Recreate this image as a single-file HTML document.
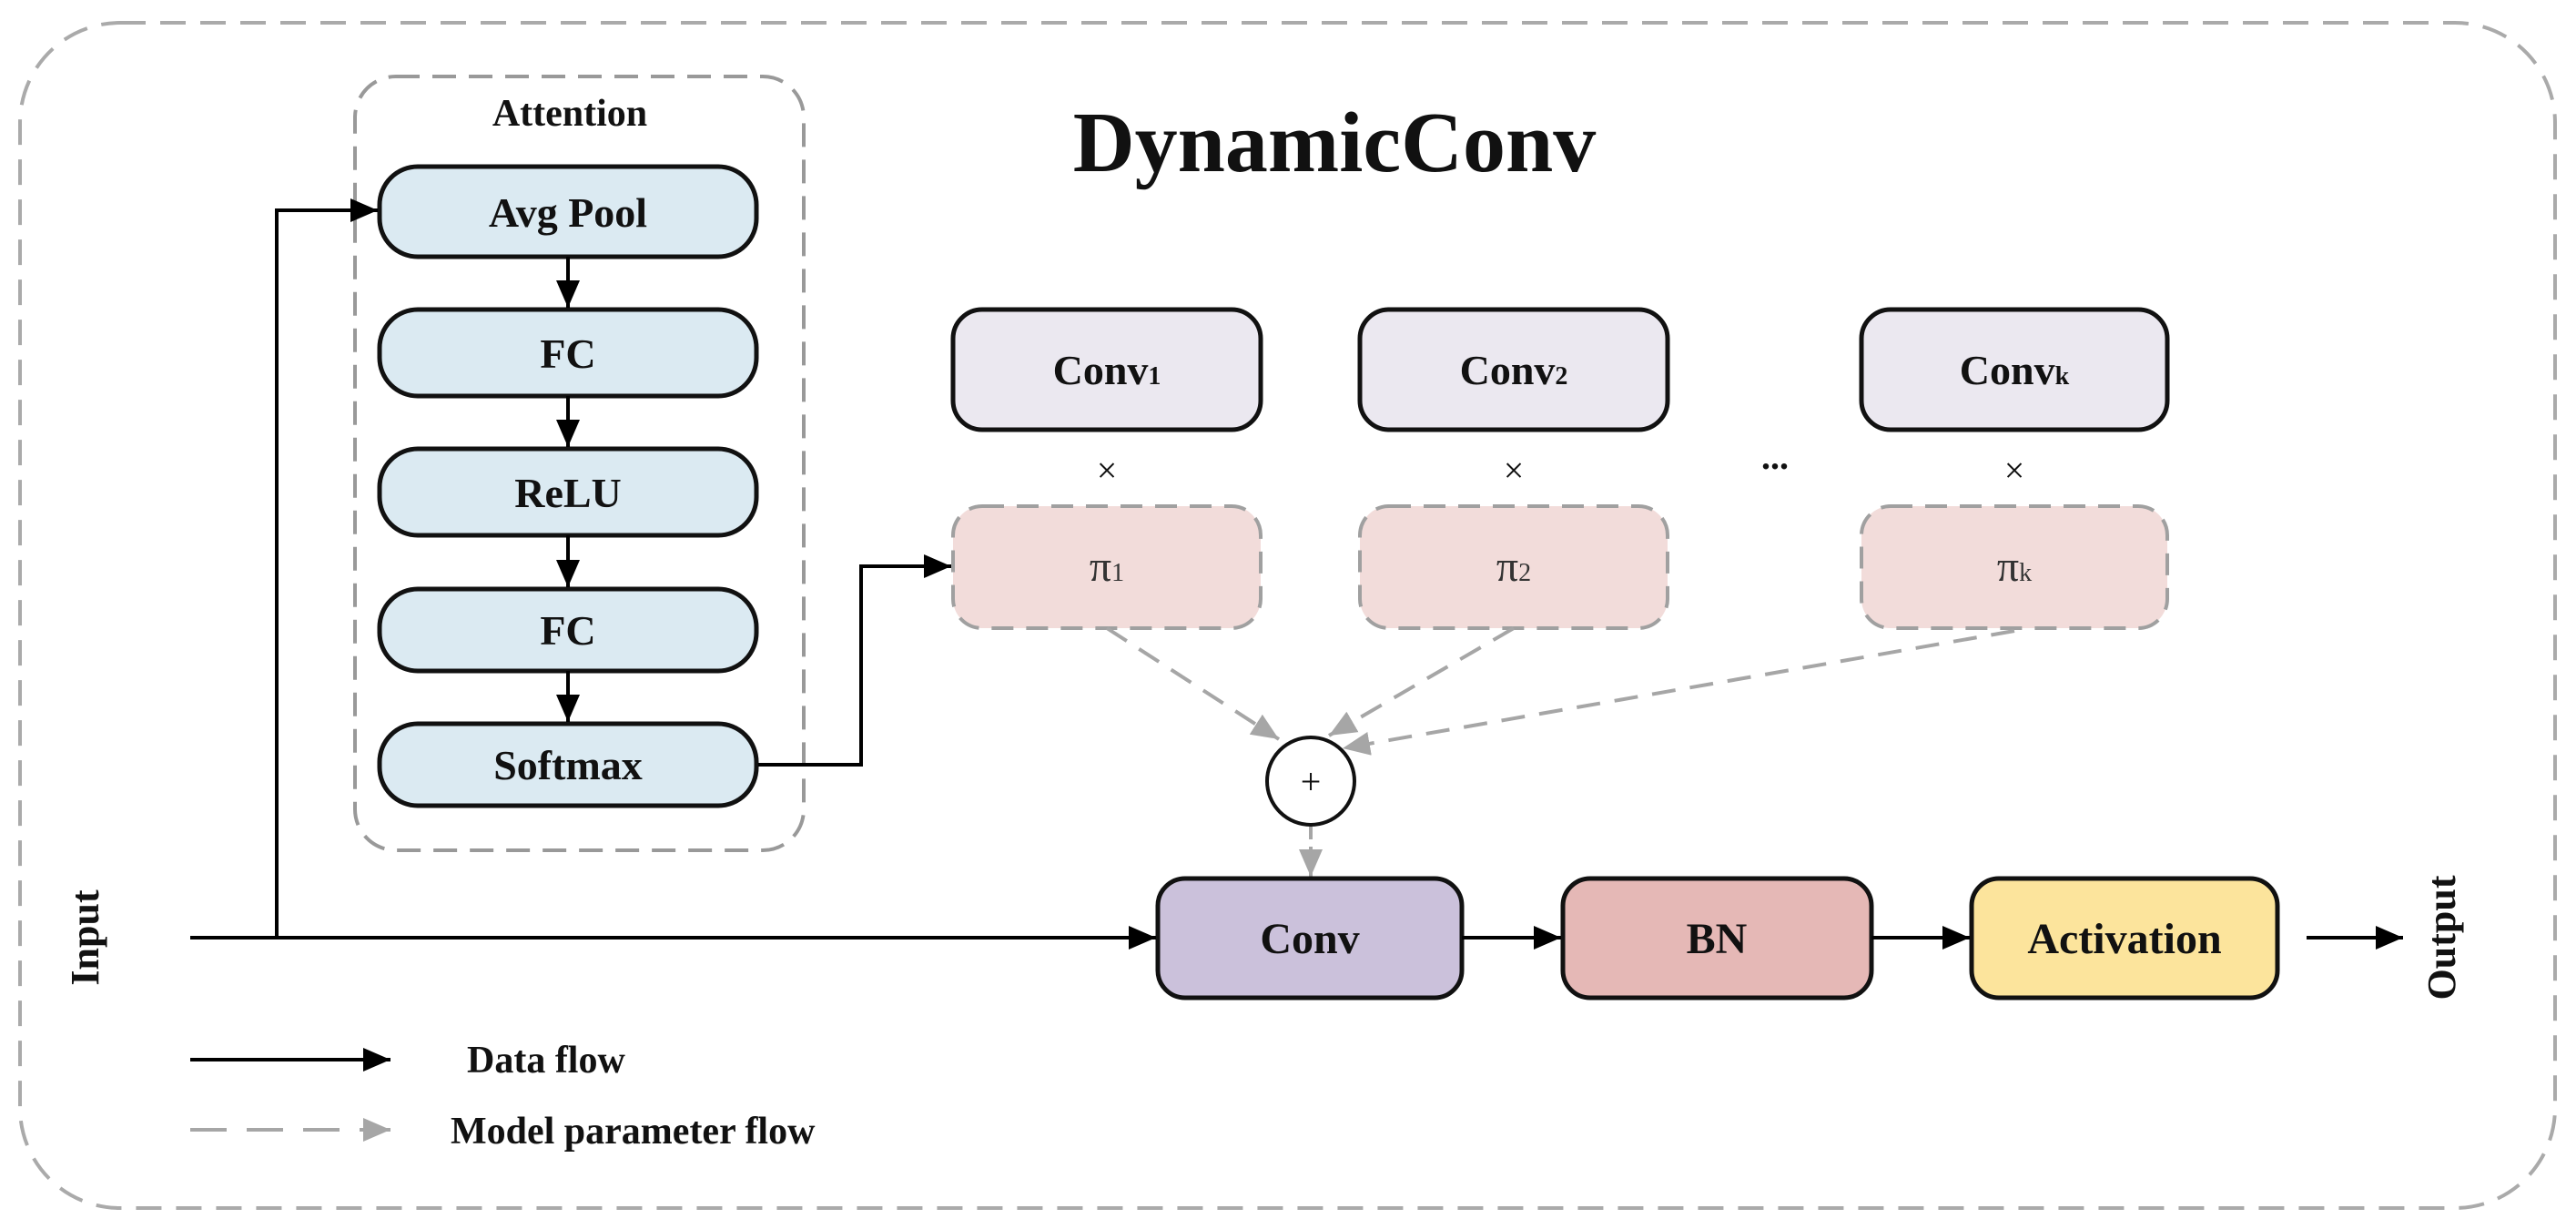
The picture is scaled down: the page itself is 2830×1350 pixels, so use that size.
<!DOCTYPE html>
<html><head><meta charset="utf-8"><style>
html,body{margin:0;padding:0;background:#fff;}
svg{display:block;}
text{font-family:"Liberation Serif",serif;font-weight:bold;fill:#111;}
</style></head><body>
<svg width="2830" height="1350" viewBox="0 0 2830 1350" xmlns="http://www.w3.org/2000/svg">
<defs>
<marker id="bk" viewBox="0 0 10 10" refX="10" refY="5" markerWidth="30" markerHeight="26" orient="auto" markerUnits="userSpaceOnUse" preserveAspectRatio="none"><path d="M0,0 L10,5 L0,10 z" fill="#000"/></marker>
<marker id="gy" viewBox="0 0 10 10" refX="10" refY="5" markerWidth="30" markerHeight="26" orient="auto" markerUnits="userSpaceOnUse" preserveAspectRatio="none"><path d="M0,0 L10,5 L0,10 z" fill="#a6a6a6"/></marker>
</defs>

<rect x="22" y="25" width="2785" height="1302" rx="110" fill="none" stroke="#aaa" stroke-width="4" stroke-dasharray="28,16"/>

<rect x="390" y="84" width="493" height="850" rx="45" fill="none" stroke="#999" stroke-width="4" stroke-dasharray="26,14"/>
<text x="626" y="138" font-size="42" text-anchor="middle">Attention</text>

<text x="1466" y="188" font-size="94" text-anchor="middle">DynamicConv</text>

<g stroke="#111" stroke-width="5" fill="#dbeaf2">
<rect x="417" y="183" width="414" height="99" rx="42"/>
<rect x="417" y="340" width="414" height="95" rx="42"/>
<rect x="417" y="493" width="414" height="95" rx="42"/>
<rect x="417" y="647" width="414" height="90" rx="42"/>
<rect x="417" y="795" width="414" height="90" rx="42"/>
</g>
<g font-size="46" text-anchor="middle">
<text x="624" y="249">Avg Pool</text>
<text x="624" y="404">FC</text>
<text x="624" y="557">ReLU</text>
<text x="624" y="708">FC</text>
<text x="624" y="856">Softmax</text>
</g>
<g stroke="#000" stroke-width="4" fill="none">
<line x1="624" y1="282" x2="624" y2="338" marker-end="url(#bk)"/>
<line x1="624" y1="435" x2="624" y2="491" marker-end="url(#bk)"/>
<line x1="624" y1="588" x2="624" y2="645" marker-end="url(#bk)"/>
<line x1="624" y1="737" x2="624" y2="793" marker-end="url(#bk)"/>
</g>

<g stroke="#111" stroke-width="5" fill="#ebe8f0">
<rect x="1047" y="340" width="338" height="132" rx="32"/>
<rect x="1494" y="340" width="338" height="132" rx="32"/>
<rect x="2045" y="340" width="336" height="132" rx="32"/>
</g>
<g font-size="46" text-anchor="middle">
<text x="1216" y="422">Conv<tspan font-size="28">1</tspan></text>
<text x="1663" y="422">Conv<tspan font-size="28">2</tspan></text>
<text x="2213" y="422">Conv<tspan font-size="28">k</tspan></text>
</g>
<g font-size="40" text-anchor="middle">
<text x="1216" y="530" style="font-weight:normal">×</text>
<text x="1663" y="530" style="font-weight:normal">×</text>
<text x="2213" y="530" style="font-weight:normal">×</text>
</g>
<text x="1950" y="515" font-size="40" text-anchor="middle">...</text>

<g stroke="#a0a0a0" stroke-width="4" fill="#f2dcda" stroke-dasharray="24,14">
<rect x="1047" y="556" width="338" height="134" rx="32"/>
<rect x="1494" y="556" width="338" height="134" rx="32"/>
<rect x="2045" y="556" width="336" height="134" rx="32"/>
</g>
<g font-size="48" text-anchor="middle">
<text x="1216" y="638" style="font-weight:normal;fill:#333">π<tspan font-size="28">1</tspan></text>
<text x="1663" y="638" style="font-weight:normal;fill:#333">π<tspan font-size="28">2</tspan></text>
<text x="2213" y="638" style="font-weight:normal;fill:#333">π<tspan font-size="28">k</tspan></text>
</g>

<g stroke="#a6a6a6" stroke-width="4" fill="none" stroke-dasharray="26,16">
<line x1="1216" y1="690" x2="1405" y2="812" marker-end="url(#gy)"/>
<line x1="1663" y1="690" x2="1460" y2="808" marker-end="url(#gy)"/>
<line x1="2213" y1="693" x2="1475" y2="822" marker-end="url(#gy)"/>
<line x1="1440" y1="908" x2="1440" y2="963" stroke-dasharray="14,8" marker-end="url(#gy)"/>
</g>

<circle cx="1440" cy="858" r="48" fill="#fff" stroke="#111" stroke-width="4"/>
<text x="1440" y="872" font-size="40" text-anchor="middle" style="font-weight:normal">+</text>

<rect x="1272" y="965" width="334" height="131" rx="30" fill="#cbc1db" stroke="#111" stroke-width="5"/>
<rect x="1717" y="965" width="339" height="131" rx="30" fill="#e5b8b6" stroke="#111" stroke-width="5"/>
<rect x="2166" y="965" width="336" height="131" rx="30" fill="#fce49c" stroke="#111" stroke-width="5"/>
<g font-size="48" text-anchor="middle">
<text x="1439" y="1047">Conv</text>
<text x="1886" y="1047">BN</text>
<text x="2334" y="1047">Activation</text>
</g>

<g stroke="#000" stroke-width="4" fill="none">
<polyline points="209,1030 1270,1030" marker-end="url(#bk)"/>
<polyline points="304,1030 304,231 415,231" marker-end="url(#bk)"/>
<polyline points="833,840 946,840 946,622 1045,622" marker-end="url(#bk)"/>
<line x1="1606" y1="1030" x2="1715" y2="1030" marker-end="url(#bk)"/>
<line x1="2056" y1="1030" x2="2164" y2="1030" marker-end="url(#bk)"/>
<line x1="2534" y1="1030" x2="2640" y2="1030" marker-end="url(#bk)"/>
</g>

<text x="0" y="0" font-size="44" text-anchor="middle" transform="translate(108,1030) rotate(-90)">Input</text>
<text x="0" y="0" font-size="44" text-anchor="middle" transform="translate(2697,1030) rotate(-90)">Output</text>

<line x1="209" y1="1164" x2="429" y2="1164" stroke="#000" stroke-width="4" marker-end="url(#bk)"/>
<text x="513" y="1178" font-size="42">Data flow</text>
<line x1="209" y1="1241" x2="429" y2="1241" stroke="#a6a6a6" stroke-width="4" stroke-dasharray="40,22" marker-end="url(#gy)"/>
<text x="495" y="1256" font-size="42">Model parameter flow</text>
</svg>
</body></html>
